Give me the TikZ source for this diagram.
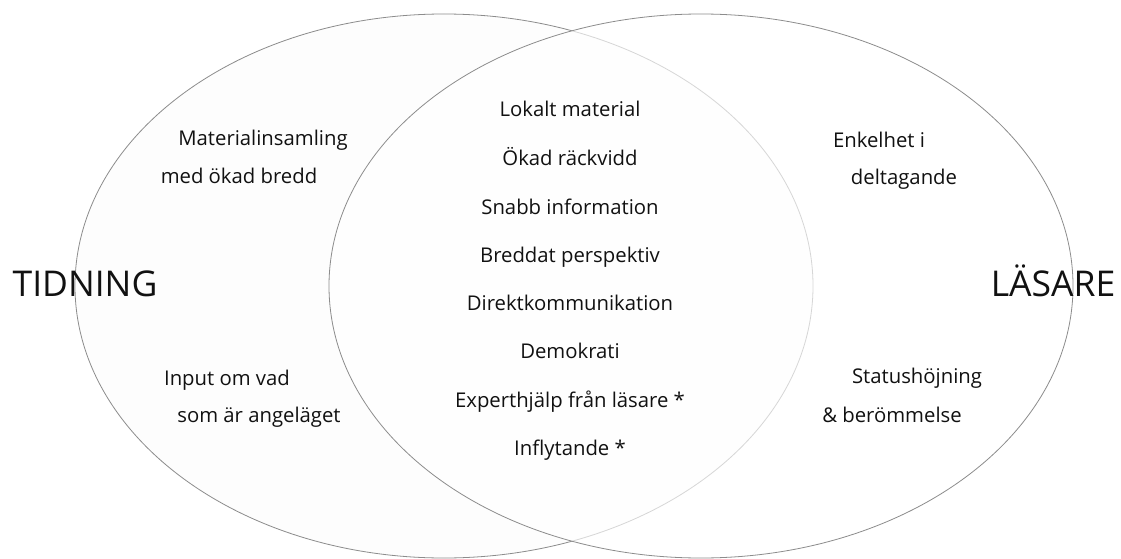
\documentclass[tikz,border=0pt]{standalone}
\usepackage{fontspec}
\setmainfont{Open Sans}
\definecolor{txt}{HTML}{111111}
\definecolor{edge}{HTML}{8C8C8C}
\definecolor{lightfill}{HTML}{FDFDFD}
\begin{document}
\begin{tikzpicture}[x=1pt,y=-1pt,
  setshape/.style={draw=edge, line width=0.8pt},
  lbl/.style={anchor=base, inner sep=0pt, text=txt, font=\fontsize{20.3}{22}\selectfont},
  big/.style={anchor=base, inner sep=0pt, text=txt, font=\fontsize{35.5}{40}\selectfont}]
\useasboundingbox (0,0) rectangle (1121,559);
\fill[white] (0,0) rectangle (1121,559);
\draw[setshape, fill=lightfill] (444,286) ellipse [x radius=369, y radius=272];
\draw[setshape, fill=white, fill opacity=0.65] (701,286) ellipse [x radius=372, y radius=272];
% left-only
\node[lbl] (m1) at (263,146) {Materialinsamling};
\node[lbl] (m2) at (239,183) {med ökad bredd};
\node[lbl] (i1) at (227,385) {Input om vad};
\node[lbl] (i2) at (259,422) {som är angeläget};
% right-only
\node[lbl] (e1) at (879,147) {Enkelhet i};
\node[lbl] (e2) at (904,184) {deltagande};
\node[lbl] (s1) at (917,383) {Statushöjning};
\node[lbl] (s2) at (892,422) {\& berömmelse};
% middle
\node[lbl] (c1) at (570,117) {Lokalt material};
\node[lbl] (c2) at (570,165) {Ökad räckvidd};
\node[lbl] (c3) at (570,214) {Snabb information};
\node[lbl] (c4) at (570,262) {Breddat perspektiv};
\node[lbl] (c5) at (570,310) {Direktkommunikation};
\node[lbl] (c6) at (570,358) {Demokrati};
\node[lbl] (c7) at (570,407) {Experthjälp från läsare *};
\node[lbl] (c8) at (570,455) {Inflytande *};
% titles
\node[big] (t) at (85,296) {TIDNING};
\node[big] (l) at (1053,296) {LÄSARE};
\end{tikzpicture}
\end{document}
